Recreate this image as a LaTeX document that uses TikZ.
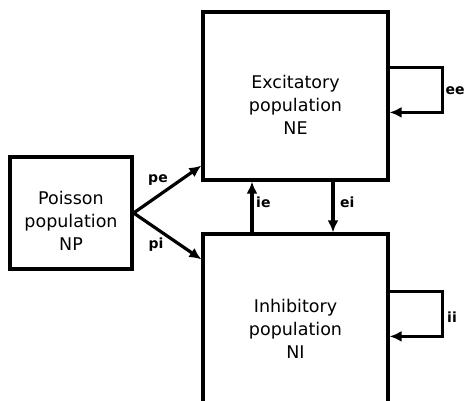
\documentclass[tikz,border=0pt]{standalone}
\usepackage{fontspec}
\setmainfont{DejaVu Sans}
\usetikzlibrary{arrows.meta}
\begin{document}
\begin{tikzpicture}[x=1pt,y=1pt,
  popbox/.style={draw,line width=3.2pt,rectangle,inner sep=0pt},
  poptext/.style={align=center,font=\fontsize{17.5}{23}\selectfont,inner sep=0pt},
  conn/.style={line width=3.2pt,-{Latex[length=12pt,width=11pt]}},
  lab/.style={font=\fontsize{14}{16}\selectfont\bfseries,inner sep=0pt}]
\useasboundingbox (0,0) rectangle (464,401);
% boxes
\node[popbox,minimum width=185pt,minimum height=168pt] (NE) at (295.5,305) {};
\node[popbox,minimum width=185pt,minimum height=172pt] (NI) at (295.5,81) {};
\node[popbox,minimum width=122pt,minimum height=112pt] (NP) at (71,188) {};
% texts
\node[poptext] (NEt) at (295.5,296) {Excitatory\\population\\NE};
\node[poptext] (NIt) at (295.5,72) {Inhibitory\\population\\NI};
\node[poptext] (NPt) at (71,180) {Poisson\\population\\NP};
% connectors
\draw[conn] (NP.east) -- ([yshift=16pt]NE.south west);
\draw[conn] (NP.east) -- ([yshift=-27pt]NI.north west);
\draw[conn] ([xshift=-43.5pt]NI.north) -- ([xshift=-43.5pt]NE.south);
\draw[conn] ([xshift=37.5pt]NE.south) -- ([xshift=37.5pt]NI.north);
\draw[conn] ([yshift=-57pt]NE.north east) -- ++(53pt,0) |- ([yshift=-102pt]NE.north east);
\draw[conn] ([yshift=-59pt]NI.north east) -- ++(53pt,0) |- ([yshift=-104pt]NI.north east);
% labels
\node[lab] (pe) at (158,221) {pe};
\node[lab] (pi) at (156,156) {pi};
\node[lab,anchor=west] (ie) at (256,199) {ie};
\node[lab,anchor=west] (ei) at (340,199) {ei};
\node[lab,anchor=west] (ee) at (445.5,310) {ee};
\node[lab,anchor=west] (ii) at (447,84) {ii};
\end{tikzpicture}
\end{document}
